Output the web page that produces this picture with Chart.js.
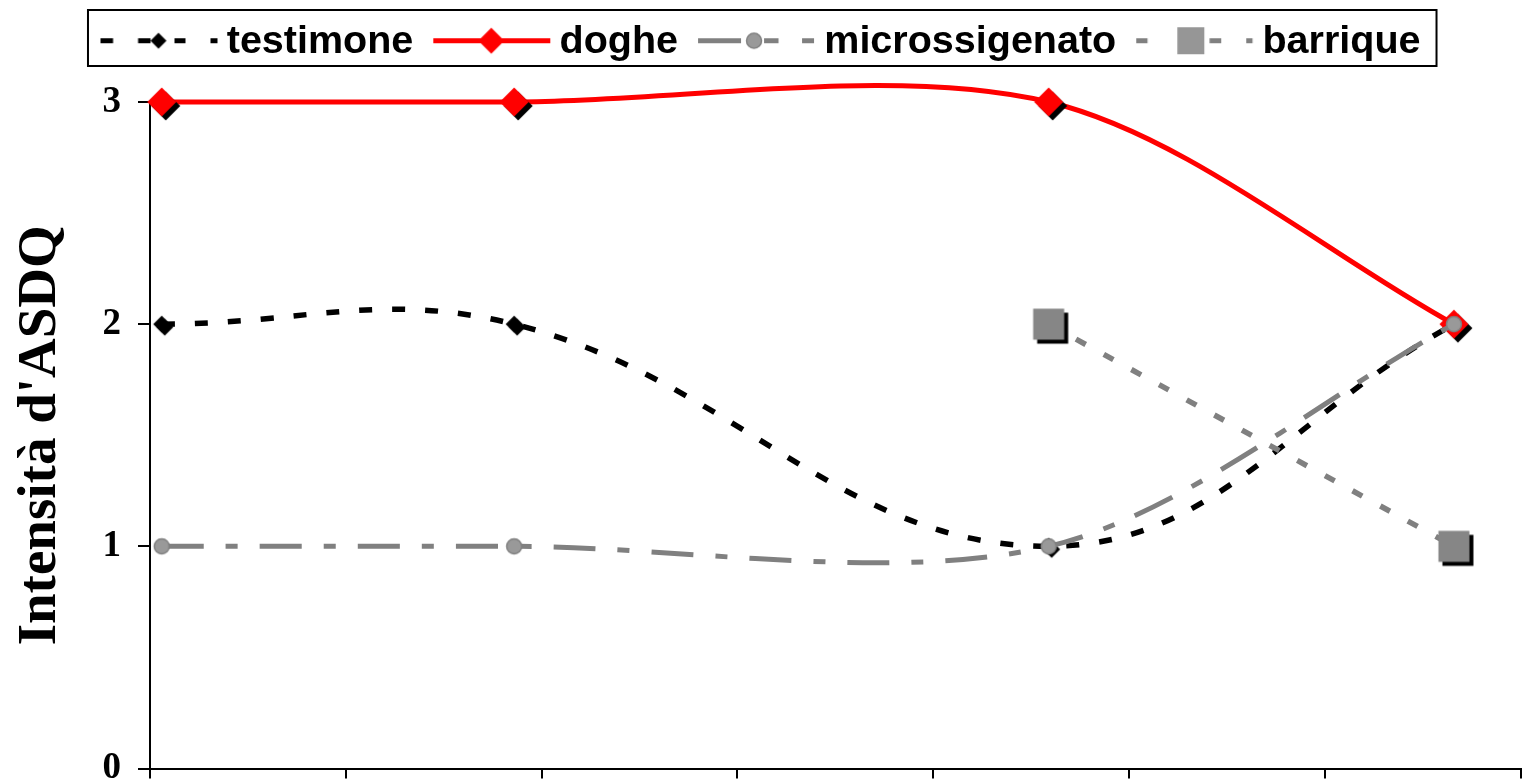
<!DOCTYPE html>
<html lang="it">
<head>
<meta charset="utf-8">
<title>Intensità d'ASDQ</title>
<script src="https://cdn.jsdelivr.net/npm/chart.js@4.4.1/dist/chart.umd.min.js"></script>
<style>
  html, body { margin: 0; padding: 0; background: #fff; overflow: hidden; }
  #wrap { position: relative; width: 1522px; height: 781px; }
</style>
</head>
<body>
<div id="wrap"><canvas id="chart"></canvas></div>
<script>
// ---- data ----
// positions of the four samplings along the x axis (axis runs 0..7)
const xPositions = [0.06, 1.86, 4.59, 6.66];
const testimone = [2, 2, 1, 2];
const doghe = [3, 3, 3, 2];
const microssigenato = [1, 1, 1, 2];
const barrique = [null, null, 2, 1];
const seriesNames = ['testimone', 'doghe', 'microssigenato', 'barrique'];
const yTickValues = [0, 1, 2, 3];
const xTickValues = [0, 1, 2, 3, 4, 5, 6, 7];
const yAxisTitle = "Intensità d'ASDQ";

// ---- styling helpers ----
const GREY = '#808080';
const SERIF = '"Liberation Serif", "Times New Roman", serif';
const SANS = '"Liberation Sans", Arial, sans-serif';

function sprite(w, h, paint) {
  const c = document.createElement('canvas');
  c.width = w; c.height = h;
  paint(c.getContext('2d'), w, h);
  return c;
}
function diamond(ctx, cx, cy, r, fill) {
  ctx.beginPath();
  ctx.moveTo(cx, cy - r); ctx.lineTo(cx + r, cy); ctx.lineTo(cx, cy + r); ctx.lineTo(cx - r, cy);
  ctx.closePath();
  ctx.fillStyle = fill; ctx.fill();
}
function square(ctx, cx, cy, r, fill) {
  ctx.fillStyle = fill;
  ctx.fillRect(cx - r, cy - r, 2 * r, 2 * r);
}
function disc(ctx, cx, cy, r, fill, stroke) {
  ctx.beginPath();
  ctx.arc(cx, cy, r, 0, Math.PI * 2);
  ctx.fillStyle = fill; ctx.fill();
  if (stroke) { ctx.lineWidth = 1.5; ctx.strokeStyle = stroke; ctx.stroke(); }
}
// marker with a drop shadow to the lower right; sprite is centred on the marker
function shadowed(shape, r, fill, off) {
  const half = Math.ceil(r + off + 2);
  return sprite(half * 2, half * 2, (ctx) => {
    if (off) shape(ctx, half + off, half + off, r, '#000');
    shape(ctx, half, half, r, fill);
  });
}

const markers = [
  shadowed(diamond, 8.5, '#000', 3),
  shadowed(diamond, 14.5, '#ff0000', 4),
  sprite(20, 20, (ctx) => disc(ctx, 10, 10, 7.5, '#999999', GREY)),
  shadowed(square, 15.5, '#868686', 4)
];

// legend keys: a short stretch of line with the marker on it
const KEY_W = 130, KEY_H = 40, KEY_X0 = 12, KEY_Y = 18.5;
function legendKey(color, segments, drawMarker) {
  return sprite(KEY_W, KEY_H, (ctx) => {
    ctx.strokeStyle = color; ctx.lineWidth = 5; ctx.lineCap = 'butt';
    segments.forEach(([a, b]) => {
      ctx.beginPath(); ctx.moveTo(KEY_X0 + a, KEY_Y); ctx.lineTo(KEY_X0 + b, KEY_Y); ctx.stroke();
    });
    drawMarker(ctx);
  });
}
const legendKeys = [
  legendKey('#000', [[0, 12.6], [37.6, 50], [74, 85], [110, 117]],
    (ctx) => diamond(ctx, KEY_X0 + 58, KEY_Y, 8, '#000')),
  legendKey('#ff0000', [[0, 117]],
    (ctx) => diamond(ctx, KEY_X0 + 58, KEY_Y, 13, '#ff0000')),
  legendKey(GREY, [[0, 43], [66, 80.5], [104, 116]],
    (ctx) => disc(ctx, KEY_X0 + 56, KEY_Y, 7.5, '#999999', GREY)),
  legendKey(GREY, [[0, 11.3], [73.3, 85], [110, 116.3]],
    (ctx) => square(ctx, KEY_X0 + 54.6, KEY_Y, 13.5, '#969696'))
];

function points(values) {
  return xPositions.map((x, i) => ({ x: x, y: values[i] })).filter(p => p.y !== null);
}

const seriesValues = [testimone, doghe, microssigenato, barrique];
const lineColors = ['#000', '#ff0000', GREY, GREY];
const lineWidths = [5.5, 5, 5, 5.5];
const lineDashes = [[13, 20], [], [42, 22, 12, 22], [11, 20.5]];
const tensions = [0.4, 0.31, 0.31, 0.31];
const drawOrder = [3, 2, 1, 0];

const datasets = seriesNames.map((name, i) => ({
  label: name,
  data: points(seriesValues[i]),
  borderColor: lineColors[i],
  backgroundColor: lineColors[i],
  borderWidth: lineWidths[i],
  borderDash: lineDashes[i],
  borderCapStyle: 'butt',
  tension: tensions[i],
  fill: false,
  clip: false,
  pointStyle: markers[i],
  pointRadius: 8,
  pointHoverRadius: 8,
  order: drawOrder[i]
}));

// extra room between the legend and the plot area
const legendGap = {
  id: 'legendGap',
  beforeLayout(chart, args, opts) {
    const legend = chart.legend;
    if (!legend || legend.__gapPatched) return;
    const baseFit = legend.fit;
    legend.fit = function () { baseFit.call(this); this.height += opts.extra || 0; };
    legend.__gapPatched = true;
  }
};
// thin frame round the legend entries
const legendFrame = {
  id: 'legendFrame',
  afterDraw(chart) {
    const boxes = chart.legend && chart.legend.legendHitBoxes;
    if (!boxes || !boxes.length) return;
    const first = boxes[0], last = boxes[boxes.length - 1];
    const left = first.left - 12, right = last.left + last.width + 16;
    const top = first.top - 12.5, bottom = first.top + first.height + 4;
    const ctx = chart.ctx;
    ctx.save();
    ctx.strokeStyle = '#000';
    ctx.lineWidth = 2;
    ctx.strokeRect(left, top, right - left, bottom - top);
    ctx.restore();
  }
};

Chart.defaults.color = '#000';

new Chart(document.getElementById('chart'), {
  type: 'line',
  data: { datasets: datasets },
  plugins: [legendGap, legendFrame],
  options: {
    responsive: true,
    maintainAspectRatio: false,
    animation: false,
    events: [],
    layout: { autoPadding: false, padding: { top: 3, left: 0, right: 1.5, bottom: 2.5 } },
    elements: { line: { capBezierPoints: false } },
    plugins: {
      tooltip: { enabled: false },
      legendGap: { extra: 30 },
      legend: {
        position: 'top',
        labels: {
          usePointStyle: true,
          pointStyleWidth: 107,
          padding: 19.5,
          color: '#000',
          font: { family: SANS, size: 39.5, weight: 'bold' },
          generateLabels(chart) {
            return chart.data.datasets.map((ds, i) => ({
              text: ds.label,
              pointStyle: legendKeys[i],
              datasetIndex: i,
              hidden: false,
              lineWidth: 0,
              fontColor: '#000',
              fillStyle: 'transparent',
              strokeStyle: 'transparent'
            }));
          }
        }
      }
    },
    scales: {
      x: {
        type: 'linear',
        min: xTickValues[0],
        max: xTickValues[xTickValues.length - 1],
        afterBuildTicks(scale) { scale.ticks = xTickValues.map(v => ({ value: v })); },
        ticks: { display: false },
        grid: { drawOnChartArea: false, drawTicks: true, tickLength: 10, color: '#000', lineWidth: 2 },
        border: { display: true, color: '#000', width: 2 }
      },
      y: {
        type: 'linear',
        min: yTickValues[0],
        max: yTickValues[yTickValues.length - 1],
        afterBuildTicks(scale) { scale.ticks = yTickValues.map(v => ({ value: v })); },
        ticks: { color: '#000', padding: 17, font: { family: SERIF, size: 37, weight: 'bold' } },
        grid: { drawOnChartArea: false, drawTicks: true, tickLength: 12, color: '#000', lineWidth: 2 },
        border: { display: true, color: '#000', width: 2 },
        title: {
          display: true,
          text: yAxisTitle,
          color: '#000',
          padding: { top: 8, bottom: 0 },
          font: { family: SERIF, size: 55, weight: 'bold' }
        },
        afterFit(scale) { scale.width = 150; scale.paddingTop = 0; scale.paddingBottom = 0; }
      }
    }
  }
});
</script>
</body>
</html>
